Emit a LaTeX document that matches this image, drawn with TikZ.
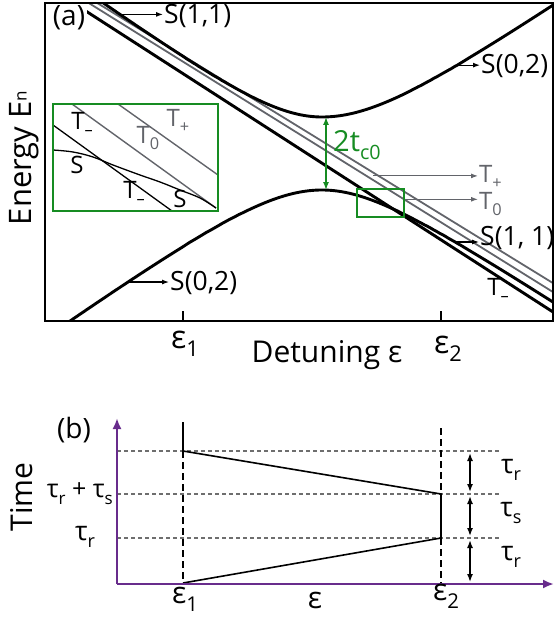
\documentclass[tikz,border=0pt]{standalone}
\usepackage{fontspec}
\setmainfont{Open Sans}
\usetikzlibrary{arrows.meta}
\definecolor{tripgrey}{RGB}{98,100,106}
\definecolor{gapgreen}{RGB}{22,140,34}
\definecolor{axpurple}{RGB}{104,44,140}
\definecolor{dashgrey}{RGB}{110,110,110}
\newcommand{\lowsub}[1]{\raisebox{-.28em}{\scalebox{.68}{#1}}}

\begin{document}
\begin{tikzpicture}[x=1pt,y=-1pt,
  declare function={upL(\x)=170.5-veclen(0.726*(\x-322),53.5);
    upR(\x)=174.5-veclen(0.69*(\x-322),57.5);
    loL(\x)=130.6+veclen(0.718*(\x-322),59.4);
    loR(\x)=141.1+veclen(0.664*(\x-322),48.9);},
  lvl/.style={line width=2.9pt},
  trip/.style={tripgrey,line width=1.8pt},
  lbl/.style={inner sep=1pt,font=\fontsize{26.5}{30}\selectfont},
  inlbl/.style={inner sep=1pt,font=\fontsize{24}{28}\selectfont},
  axlbl/.style={inner sep=0pt,font=\fontsize{30}{34}\selectfont},
  ptr/.style={-{Latex[length=7pt,width=5pt]},line width=1.1pt},
  inl/.style={line width=1.3pt},
  hguide/.style={dashgrey,line width=1.4pt,dash pattern=on 4pt off 3pt},
  vguide/.style={line width=1.4pt,dash pattern=on 7pt off 4pt},
  tspan/.style={{Latex[length=8pt,width=6pt]}-{Latex[length=8pt,width=6pt]},line width=1.5pt}]
\path[use as bounding box] (0,0) rectangle (554,618);

% (a) energy levels
\begin{scope}
\clip (45,3) rectangle (553,321);
\draw[trip] (60,-19.9) -- (560,287.4);
\draw[trip] (60,-14.9) -- (560,296.4);
\draw[lvl] (60,-5.6) -- (560,316.5);
\draw[lvl] plot[domain=90:322,samples=80] (\x,{upL(\x)}) -- plot[domain=322:560,samples=80] (\x,{upR(\x)});
\draw[lvl] plot[domain=60:322,samples=80] (\x,{loL(\x)}) -- plot[domain=322:560,samples=80] (\x,{loR(\x)});
\end{scope}
\draw[line width=2pt] (45,3) rectangle (553,321);
\draw[line width=1.4pt] (183,321) -- (183,311) (441,321) -- (441,311);
\node[lbl,fill=white,inner sep=2pt,font=\fontsize{28}{30}\selectfont] (pa) at (69,18) {(a)};

\coordinate (s11top) at (120,{upL(120)});
\coordinate (s02top) at (457,{upR(457)});
\coordinate (s02bot) at (128,{loL(128)});
\coordinate (s11bot) at (455,{loR(455)});
\coordinate (tplus) at (373,175.9);
\coordinate (tzero) at (404,199.3);
\coordinate (gapT) at (326,{upR(326)});
\coordinate (gapB) at (326,{loR(326)});

\node[lbl,anchor=west] (ls11top) at (163,16) {S(1,1)};
\node[lbl,anchor=west] (ls02top) at (480,66) {S(0,2)};
\node[lbl,anchor=west] (ls02bot) at (169,283) {S(0,2)};
\node[lbl,anchor=west] (ls11bot) at (479,238) {S(1, 1)};
\node[inlbl,anchor=west,tripgrey] (ltplus) at (478,177) {T\lowsub{+}};
\node[inlbl,anchor=west,tripgrey] (ltzero) at (478,204) {T\lowsub{0}};
\node[inlbl] (ltminus) at (498,290) {T\lowsub{\textendash}};
\node[lbl,anchor=west,gapgreen,font=\fontsize{29}{32}\selectfont] (lgap) at (332,145) {2t\lowsub{c0}};

\draw[ptr] (s11top) -- (s11top -| ls11top.west);
\draw[ptr] (s02top) -- (s02top -| ls02top.west);
\draw[ptr] (s02bot) -- (s02bot -| ls02bot.west);
\draw[ptr] (s11bot) -- (s11bot -| ls11bot.west);
\draw[ptr,tripgrey] (tplus) -- (tplus -| ltplus.west);
\draw[ptr,tripgrey] (tzero) -- (tzero -| ltzero.west);
\draw[tspan,gapgreen] (gapT) -- (gapB);

% zoom window and inset
\draw[gapgreen,line width=1.6pt] (357,189) rectangle (404,217);
\begin{scope}
\clip (53,104) rectangle (218,211);
\draw[trip,line width=1.4pt] (72,104) -- (216,208);
\draw[trip,line width=1.4pt] (118,104) -- (218,175);
\draw[inl] (53,125) -- (172,211);
\draw[inl] plot[smooth,tension=.6] coordinates {(53,150) (73,152) (93,157) (113,165) (140,175) (160,182) (180,190) (200,198) (216,208)};
\end{scope}
\draw[gapgreen,line width=1.6pt] (53,104) rectangle (218,211);
\node[inlbl] (itm1) at (82,124) {T\lowsub{\textendash}};
\node[inlbl,tripgrey] (itz) at (148,138) {T\lowsub{0}};
\node[inlbl,tripgrey] (itp) at (178,121) {T\lowsub{+}};
\node[inlbl] (is1) at (77,165) {S};
\node[inlbl] (itm2) at (134,193) {T\lowsub{\textendash}};
\node[inlbl] (is2) at (180,199) {S};

\node[axlbl,rotate=90,font=\fontsize{31}{34}\selectfont] (energy) at (24,158) {Energy E\raisebox{.15em}{\scalebox{.55}{n}}};
\node[axlbl,anchor=base] (detuning) at (327,362) {Detuning ε};
\node[axlbl,anchor=base,font=\fontsize{32}{34}\selectfont] (ea1) at (185,348) {ε\lowsub{1}};
\node[axlbl,anchor=base,font=\fontsize{32}{34}\selectfont] (ea2) at (448,353) {ε\lowsub{2}};

% (b) time line
\coordinate (orig) at (117,584);
\draw[hguide] (117,451) -- (500,451);
\draw[hguide] (117,494) -- (500,494);
\draw[hguide] (117,538) -- (500,538);
\draw[line width=1.4pt] (183,422) -- (183,451);
\draw[vguide] (183,451) -- (183,584);
\draw[vguide] (441,428) -- (441,584);
\draw[line width=1.6pt] (183,451) -- (441,494) -- (441,538) -- (183,583);
\draw[tspan] (470,453) -- (470,492);
\draw[tspan] (470,496) -- (470,536);
\draw[tspan] (470,540) -- (470,582);
\draw[axpurple,line width=2.6pt,-{Latex[length=11pt,width=9pt]}] (orig) -- (117,418);
\draw[axpurple,line width=2.6pt,-{Latex[length=11pt,width=9pt]}] (orig) -- (554,584);

\node[lbl,font=\fontsize{28}{30}\selectfont] (pb) at (74,430) {(b)};
\node[axlbl,rotate=90,font=\fontsize{30}{32}\selectfont] (time) at (22,497) {Time};
\node[lbl,anchor=east,font=\fontsize{25}{28}\selectfont] (trs) at (114,494) {τ\lowsub{r} + τ\lowsub{s}};
\node[lbl] (tr1) at (85,537) {τ\lowsub{r}};
\node[lbl] (tra) at (511,470) {τ\lowsub{r}};
\node[lbl] (tsb) at (511,513) {τ\lowsub{s}};
\node[lbl] (trc) at (511,557) {τ\lowsub{r}};
\node[axlbl,anchor=base] (eb1) at (185,603) {ε\lowsub{1}};
\node[axlbl,anchor=base] (eb) at (315,608) {ε};
\node[axlbl,anchor=base] (eb2) at (446,600) {ε\lowsub{2}};
\end{tikzpicture}
\end{document}
